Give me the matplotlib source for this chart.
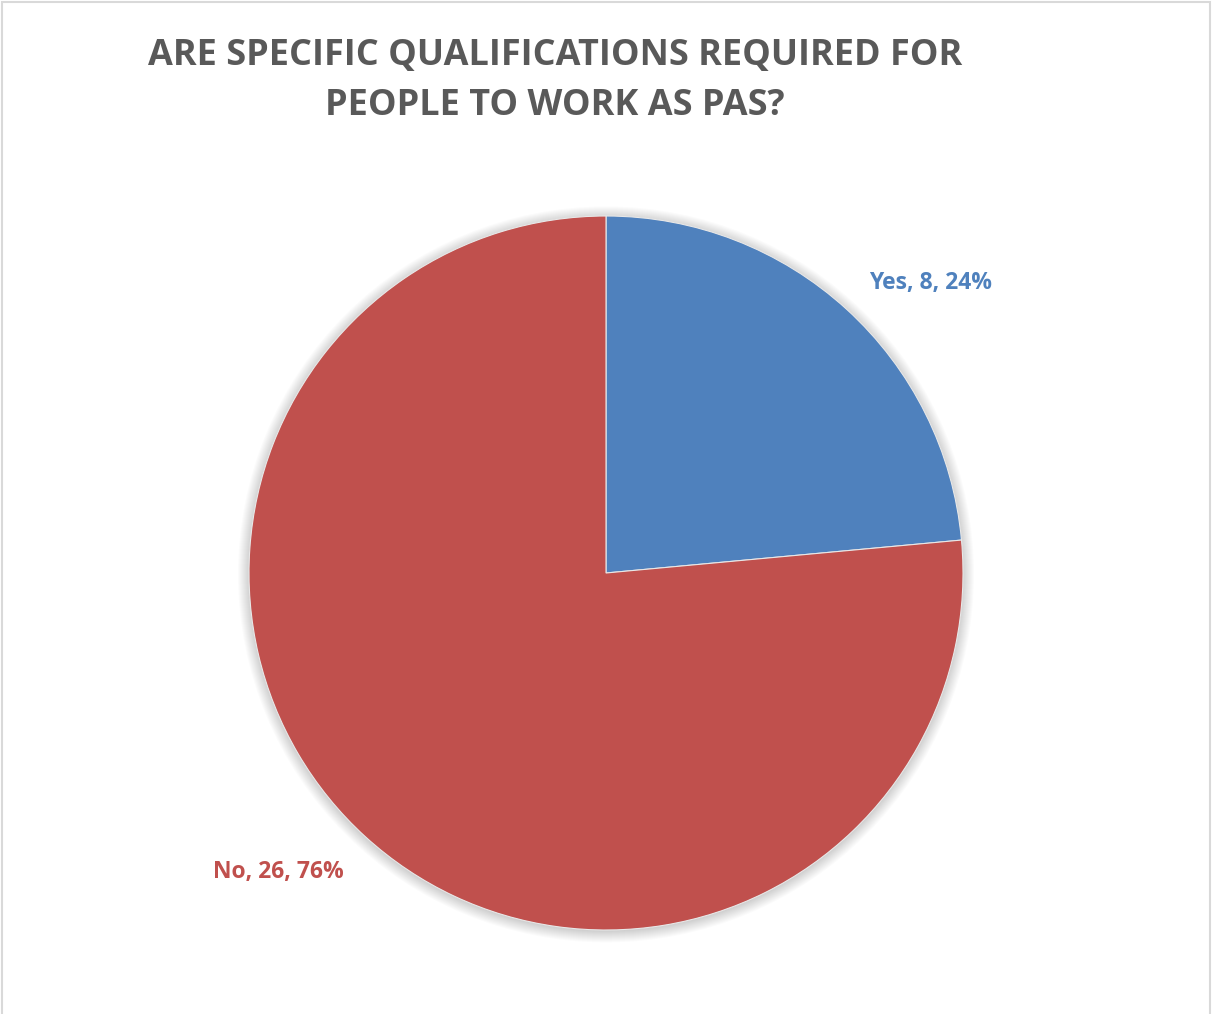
import matplotlib
matplotlib.use("Agg")
import matplotlib.pyplot as plt
from matplotlib.patches import Circle, Rectangle

categories = ["Yes", "No"]
values = [8, 26]
colors = ["#4F81BD", "#C0504D"]
title = "ARE SPECIFIC QUALIFICATIONS REQUIRED FOR\nPEOPLE TO WORK AS PAS?"

W, H = 1213, 1014
fig = plt.figure(figsize=(W / 100, H / 100), dpi=100)
fig.patch.set_facecolor("white")

# outer border
fig.add_artist(Rectangle((2 / W, -0.01), (1210 - 2) / W, 1 - 2 / H + 0.01,
                         transform=fig.transFigure, fill=False,
                         edgecolor="#D9D9D9", linewidth=1.5))

cx, cy, r = 606, 573, 357
ax = fig.add_axes([(cx - r) / W, (H - cy - r) / H, 2 * r / W, 2 * r / H])

# soft shadow
for i in range(12):
    ax.add_patch(Circle((0, -0.004), 1.0 + 0.0028 * i, color="black",
                        alpha=0.016, lw=0, zorder=0, clip_on=False))

total = sum(values)
wedges, _ = ax.pie(values, colors=colors, startangle=90, counterclock=False,
                   radius=1.0, center=(0, 0), frame=True,
                   wedgeprops=dict(edgecolor="#E8E8E8", linewidth=0.8))
ax.set_xlim(-1, 1)
ax.set_ylim(-1, 1)
ax.set_aspect("auto")
ax.axis("off")
for w in wedges:
    w.set_zorder(2)

font = ["Open Sans", "DejaVu Sans"]
label_pos = [(0.908, 0.812), (-0.919, -0.838)]
for cat, v, c, (lx, ly) in zip(categories, values, colors, label_pos):
    pct = round(100 * v / total)
    ax.text(lx, ly, f"{cat}, {v}, {pct}%", color=c, fontsize=16.5,
            fontweight="bold", family=font, ha="center", va="center",
            clip_on=False)

fig.text(555 / W, 1 - 81 / H, title, ha="center", va="center",
         fontsize=25.9, fontweight="bold", color="#595959", family=font,
         linespacing=1.5)

fig.savefig("out.png", dpi=100)
